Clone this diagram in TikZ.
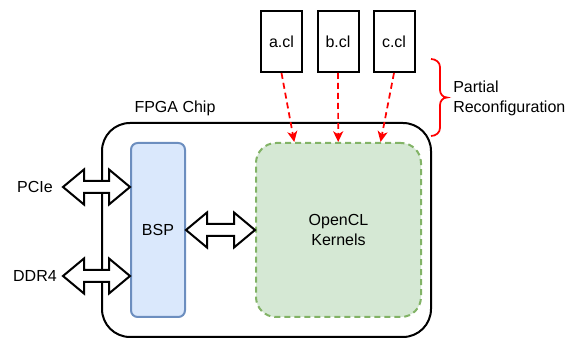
\documentclass[tikz,border=0pt]{standalone}
\usepackage{fontspec}
\setmainfont{Liberation Sans}
\usetikzlibrary{calc,arrows.meta}

\definecolor{bspfill}{HTML}{DAE8FC}
\definecolor{bspline}{HTML}{6C8EBF}
\definecolor{kerfill}{HTML}{D5E8D4}
\definecolor{kerline}{HTML}{82B366}
\definecolor{prred}{HTML}{FF0000}

% horizontal double-headed block arrow between two points
\newcommand\dblarrow[2]{%
  \draw[dblarrowstyle] let \p1=#1, \p2=#2 in
    (\x1,\y1) -- (\x1+15.75pt,\y1+13.125pt) -- (\x1+15.75pt,\y1+4.5pt)
    -- (\x2-15.75pt,\y1+4.5pt) -- (\x2-15.75pt,\y1+13.125pt) -- (\x2,\y1)
    -- (\x2-15.75pt,\y1-13.125pt) -- (\x2-15.75pt,\y1-4.5pt)
    -- (\x1+15.75pt,\y1-4.5pt) -- (\x1+15.75pt,\y1-13.125pt) -- cycle;}

\tikzset{
  txt/.style={font=\fontsize{12}{15}\selectfont, inner sep=0pt},
  chipbox/.style={draw=black, line width=1.5pt, rounded corners=21pt,
    minimum width=246.75pt, minimum height=160.5pt, inner sep=0pt},
  bspbox/.style={draw=bspline, fill=bspfill, line width=1.5pt, rounded corners=5pt,
    minimum width=40.5pt, minimum height=130.5pt, txt},
  kerbox/.style={draw=kerline, fill=kerfill, line width=1.5pt, rounded corners=15pt,
    dash pattern=on 4.5pt off 3pt, minimum width=123.75pt, minimum height=130.5pt,
    txt, align=center},
  filebox/.style={draw=black, fill=white, line width=1.5pt,
    minimum width=30.75pt, minimum height=45.75pt, txt},
  dblarrowstyle/.style={draw=black, fill=white, line width=1.5pt, line join=miter},
  reconf/.style={draw=prred, line width=1.3pt, dash pattern=on 4.5pt off 3pt,
    -{Stealth[length=8pt,width=7.5pt,inset=2.2pt]}},
  bracestyle/.style={draw=prred, line width=1.3pt},
}

\begin{document}
\begin{tikzpicture}[x=0.75pt, y=-0.75pt]
  \useasboundingbox (0,0) rectangle (576,341);

  % the chip outline and its title
  \node[chipbox] (chip) at (266.5,230) {};
  \node[txt] (chiplabel) at (175,108) {FPGA Chip};

  % board support package and the kernel region
  \node[bspbox] (bsp) at (158,230) {BSP};
  \node[kerbox] (ker) at (338.5,230) {OpenCL\\Kernels};

  % kernel source files
  \node[filebox] (a) at (281.5,41.5) {a.cl};
  \node[filebox] (b) at (338,41.5) {b.cl};
  \node[filebox] (c) at (394,41.5) {c.cl};

  % external interfaces
  \node[txt, anchor=east] (pcie) at (53,187) {PCIe};
  \node[txt, anchor=east] (ddr) at (57,276) {DDR4};
  \coordinate (pcieend) at ($(pcie.east)+(10,0)$);
  \coordinate (ddrend) at ($(ddr.east)+(6,0)$);

  \dblarrow{(pcieend)}{(bsp.west |- pcieend)}
  \dblarrow{(ddrend)}{(bsp.west |- ddrend)}
  \dblarrow{(bsp.east)}{(ker.west)}

  % reconfiguration flows
  \coordinate (kb) at ($(ker.north west)!0.5!(ker.north east)+(-0.3,0)$);
  \draw[reconf] (a.south) -- ($(ker.north west)!0.235!(ker.north east)$);
  \draw[reconf] (b.south) -- (kb);
  \draw[reconf] (c.south) -- ($(ker.north west)!0.752!(ker.north east)$);

  % curly brace grouping the files
  \draw[bracestyle] (431,59) to[out=0,in=90] (440,67) -- (440,90)
    to[out=-90,in=180] (447,97.5) to[out=180,in=90] (440,105) -- (440,128)
    to[out=-90,in=0] (431,136);
  \node[txt, anchor=west, align=left] (prlabel) at (453,98) {Partial\\Reconfiguration};
\end{tikzpicture}
\end{document}
